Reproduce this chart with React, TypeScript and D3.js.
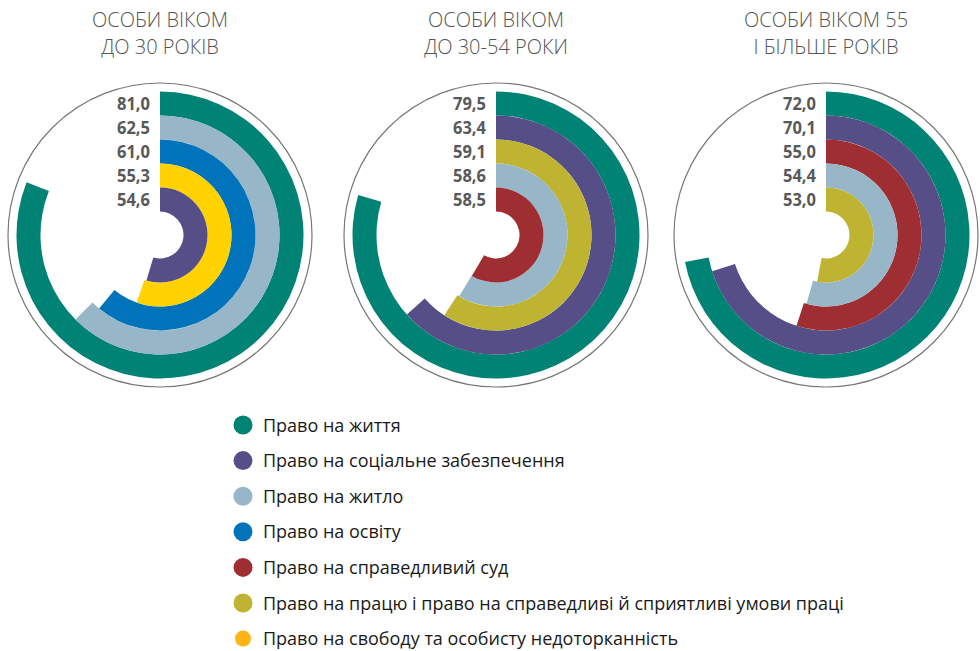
import React from "react";
import * as d3 from "d3";

// legend categories
const rights = [
  "Право на життя",
  "Право на соціальне забезпечення",
  "Право на житло",
  "Право на освіту",
  "Право на справедливий суд",
  "Право на працю і право на справедливі й сприятливі умови праці",
  "Право на свободу та особисту недоторканність",
];
const arcColors = ["#008375", "#564E86", "#97B6C7", "#0073BB", "#9F2E32", "#BEB432", "#FFD200"];
const legendColors = ["#008375", "#564E86", "#97B6C7", "#0073BB", "#9F2E32", "#BEB432", "#FDB515"];

// age groups
const titles = [
  ["ОСОБИ ВІКОМ", "ДО 30 РОКІВ"],
  ["ОСОБИ ВІКОМ", "ДО 30-54 РОКИ"],
  ["ОСОБИ ВІКОМ 55", "І БІЛЬШЕ РОКІВ"],
];
// which right each ring shows, outermost first
const under30Rights = [0, 2, 3, 6, 1];
const under30Values = [81.0, 62.5, 61.0, 55.3, 54.6];
const mid30to54Rights = [0, 1, 5, 2, 4];
const mid30to54Values = [79.5, 63.4, 59.1, 58.6, 58.5];
const over55Rights = [0, 1, 4, 2, 5];
const over55Values = [72.0, 70.1, 55.0, 54.4, 53.0];

const groups = [
  { rights: under30Rights, values: under30Values },
  { rights: mid30to54Rights, values: mid30to54Values },
  { rights: over55Rights, values: over55Values },
];

const width = 980;
const height = 651;
const centersX = [160, 496, 826];
const centerY = 235;
const hole = 23.5;
const ring = 24;
const outline = 152;

const angle = d3.scaleLinear().domain([0, 100]).range([0, 2 * Math.PI]);
const fmt = (v: number) => d3.format(".1f")(v).replace(".", ",");

const font = "'Open Sans', 'Noto Sans', sans-serif";

export default function App() {
  const arc = d3.arc<any>();

  return (
    <svg
      width={width}
      height={height}
      viewBox={`0 0 ${width} ${height}`}
      style={{ position: "absolute", left: 0, top: 0, background: "#fff" }}
    >
      {groups.map((g, gi) => {
        const cx = centersX[gi];
        const n = g.values.length;
        return (
          <g key={gi}>
            {titles[gi].map((t, ti) => (
              <text
                key={ti}
                x={cx}
                y={27 + ti * 26.7}
                textAnchor="middle"
                fontFamily={font}
                fontWeight={300}
                fontSize={20}
                fill="#555"
              >
                {t}
              </text>
            ))}
            <circle cx={cx} cy={centerY} r={outline} fill="none" stroke="#777" strokeWidth={1.2} />
            <g transform={`translate(${cx},${centerY})`}>
              {g.values.map((v, i) => {
                const outer = hole + ring * (n - i);
                return (
                  <path
                    key={i}
                    d={arc({ innerRadius: outer - ring, outerRadius: outer, startAngle: 0, endAngle: angle(v) }) || ""}
                    fill={arcColors[g.rights[i]]}
                  />
                );
              })}
              {g.values.map((v, i) => {
                const outer = hole + ring * (n - i);
                return (
                  <text
                    key={"l" + i}
                    x={-10}
                    y={-(outer - ring / 2) + 6.5}
                    textAnchor="end"
                    fontFamily={font}
                    fontWeight={700}
                    fontSize={18}
                    fill="#58595B"
                    textLength={33}
                    lengthAdjust="spacingAndGlyphs"
                  >
                    {fmt(v)}
                  </text>
                );
              })}
            </g>
          </g>
        );
      })}

      <g transform="translate(243,425)">
        {rights.map((r, i) => (
          <g key={i} transform={`translate(0,${i * 35.6})`}>
            <circle r={i === 6 ? 8 : 9.5} fill={legendColors[i]} />
            <text x={20} y={6.5} fontFamily={font} fontSize={18} fill="#1a1a1a">
              {r}
            </text>
          </g>
        ))}
      </g>
    </svg>
  );
}
